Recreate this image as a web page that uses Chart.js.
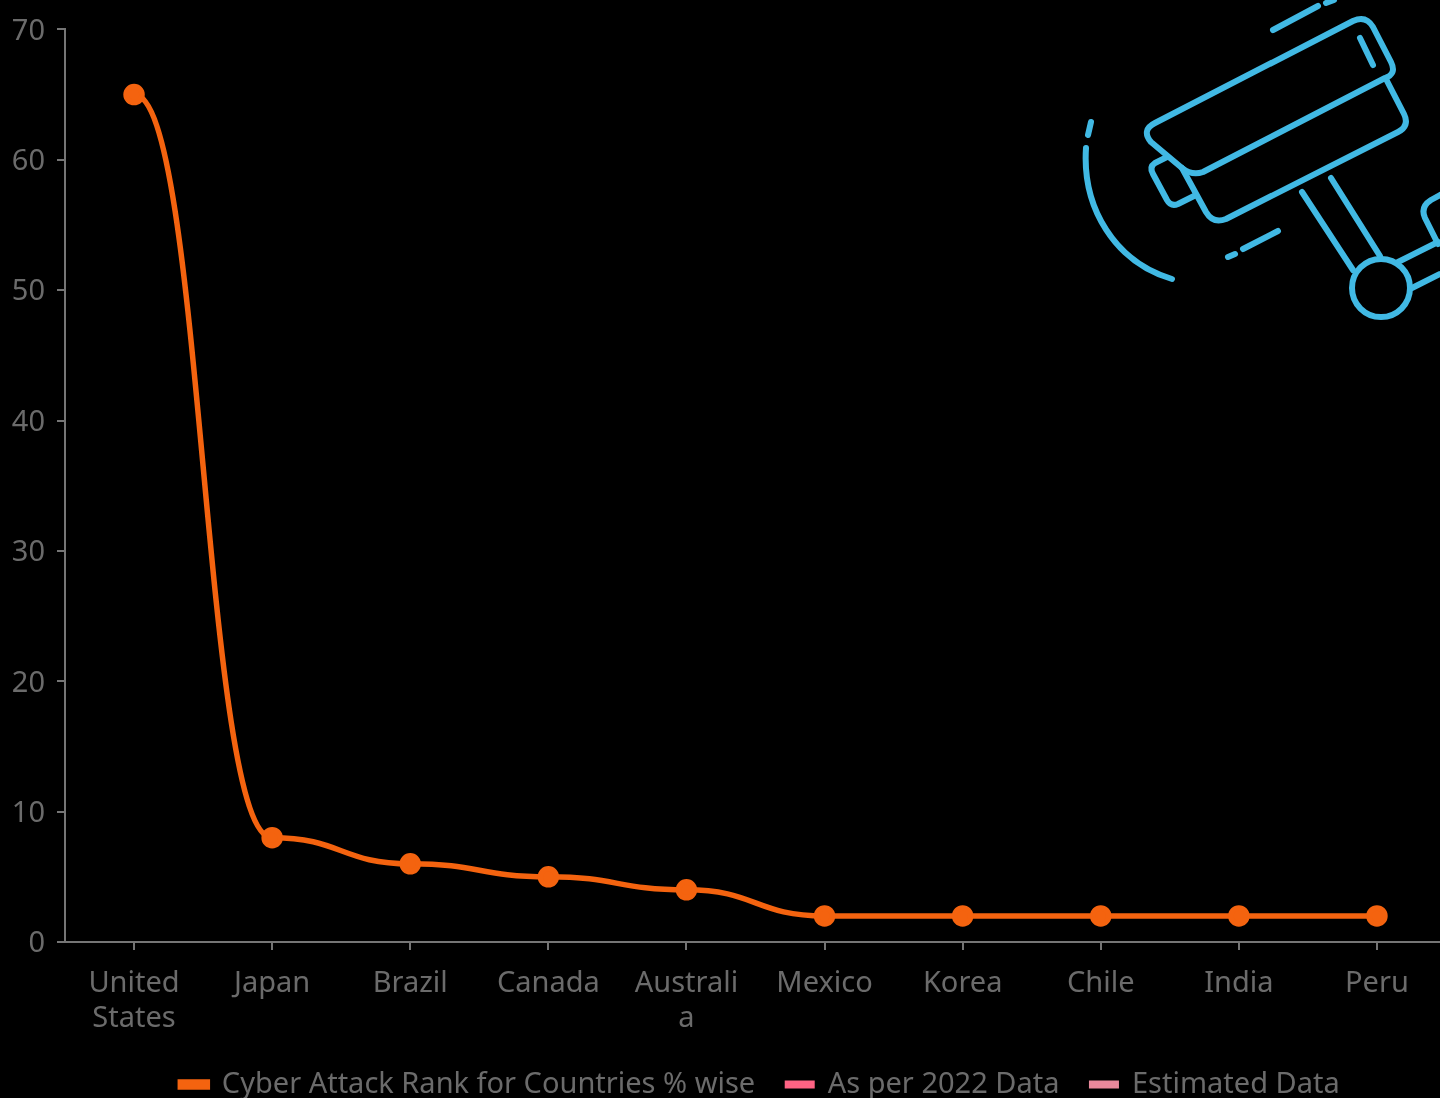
<!DOCTYPE html>
<html>
<head>
<meta charset="utf-8">
<title>Cyber Attack Rank</title>
<script src="https://cdn.jsdelivr.net/npm/chart.js@4"></script>
<style>
html, body { margin: 0; padding: 0; background: #000; overflow: hidden; width: 1440px; height: 1098px; }
#wrap { position: relative; width: 1440px; height: 1098px; overflow: hidden; }
#myChart { position: absolute; left: 0; top: 0; }
#camera { position: absolute; left: 0; top: 0; }
#camera * { fill: none; stroke: #41b9e4; stroke-width: 6; stroke-linecap: round; stroke-linejoin: round; }
</style>
</head>
<body>
<div id="wrap">
  <canvas id="myChart" width="1520" height="1109"></canvas>
  <!-- camera icon on top of the chart, coordinates -->
  <svg id="camera" width="1440" height="1098" viewBox="0 0 1440 1098">
    <path d="M1155 123 L1353 21 Q1366 15 1373 27 L1391 62 Q1397 74 1385 78 L1203 172 Q1192 176 1182 168 L1151 142 Q1141 130 1155 123 Z"/>
    <path d="M1386 79 L1404 114 Q1410 126 1398 132 L1226 219 Q1213 224 1206 212 L1182 168"/>
    <path d="M1167 157 L1155 163 Q1149 167 1153 174 L1167 200 Q1171 207 1178 204 L1194 196"/>
    <path d="M1360 38 L1373 65"/>
    <path d="M1273 30 L1318 6"/>
    <path d="M1326 3 L1334 0"/>
    <path d="M1091 122 L1088 135"/>
    <path d="M1086 148 C1082 208 1115 262 1172 279"/>
    <path d="M1278 231 L1243 249"/>
    <path d="M1235 254 L1228 257"/>
    <path d="M1302 192 L1353 270"/>
    <path d="M1331 178 L1380 256"/>
    <circle cx="1381" cy="288" r="29"/>
    <path d="M1398 262 L1438 242"/>
    <path d="M1412 288 L1440 274"/>
    <path d="M1440 195 L1431 200 Q1420 207 1425 218 L1438 244"/>
  </svg>
</div>
<script>
var countries = [["United", "States"], "Japan", "Brazil", "Canada", ["Australi", "a"], "Mexico", "Korea", "Chile", "India", "Peru"];
var attackRank = [65, 8, 6, 5, 4, 2, 2, 2, 2, 2];
var data2022 = [];
var estimated = [];

var textColor = "#6b6b6b";
var axisColor = "#757575";
var fontFamily = "'Noto Sans', sans-serif";

// curve leaves every point flat, like the reference
var flatCurve = {
  id: "flatCurve",
  beforeDatasetsDraw: function(chart) {
    var meta = chart.getDatasetMeta(0);
    meta.dataset.updateControlPoints(chart.chartArea);
    var pts = meta.data;
    for (var i = 0; i < pts.length - 1; i++) {
      var mid = (pts[i].x + pts[i + 1].x) / 2;
      pts[i].cp2x = mid;
      pts[i].cp2y = pts[i].y;
      pts[i + 1].cp1x = mid;
      pts[i + 1].cp1y = pts[i + 1].y;
    }
  }
};

// legend is centred on the whole canvas, not on the padded part
var legendShift = {
  id: "legendShift",
  afterLayout: function(chart) {
    chart.legend.left += 37;
    chart.legend.right += 37;
  }
};

new Chart(document.getElementById("myChart"), {
  type: "line",
  plugins: [flatCurve, legendShift],
  data: {
    labels: countries,
    datasets: [{
      label: "Cyber Attack Rank for Countries % wise",
      data: attackRank,
      borderColor: "#f4630f",
      backgroundColor: "#f4630f",
      borderWidth: 5.5,
      pointRadius: 8,
      pointBackgroundColor: "#f4630f",
      cubicInterpolationMode: "monotone"
    }, {
      label: "As per 2022 Data",
      data: data2022,
      borderColor: "#ff6384",
      backgroundColor: "#ff6384"
    }, {
      label: "Estimated Data",
      data: estimated,
      borderColor: "#e9899c",
      backgroundColor: "#e9899c"
    }]
  },
  options: {
    responsive: false,
    animation: false,
    layout: { padding: { top: 28, right: 74, left: 0, bottom: 0 } },
    scales: {
      x: {
        offset: true,
        grid: { drawOnChartArea: false, offset: false, color: axisColor, tickLength: 8, lineWidth: 2 },
        border: { color: axisColor, width: 2 },
        ticks: {
          color: textColor,
          maxRotation: 0,
          autoSkip: false,
          padding: 16,
          font: { family: fontFamily, size: 29, lineHeight: 1.22 }
        },
        afterFit: function(scale) { scale.height = 97; }
      },
      y: {
        min: 0,
        max: 70,
        grid: { drawOnChartArea: false, color: axisColor, tickLength: 8, lineWidth: 2 },
        border: { color: axisColor, width: 2 },
        ticks: {
          color: textColor,
          stepSize: 10,
          padding: 12,
          labelOffset: 2,
          font: { family: fontFamily, size: 29 }
        },
        afterFit: function(scale) { scale.width = 65; }
      }
    },
    plugins: {
      tooltip: { enabled: false },
      legend: {
        position: "bottom",
        labels: {
          color: textColor,
          boxWidth: 27,
          boxHeight: 5,
          padding: 31,
          font: { family: fontFamily, size: 29 }
        }
      }
    }
  }
});
</script>
</body>
</html>
